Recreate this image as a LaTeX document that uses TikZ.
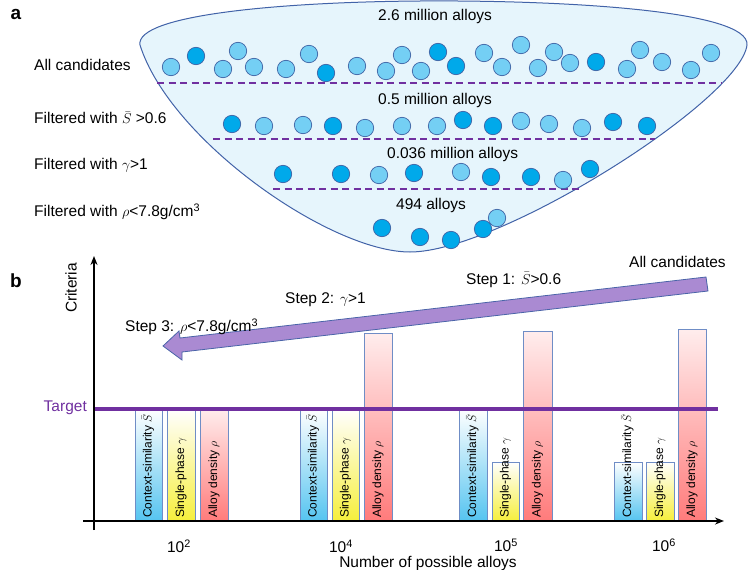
\documentclass[tikz,border=0pt]{standalone}
\usepackage{fontspec}
\setmainfont{Liberation Sans}
\usetikzlibrary{arrows.meta}
\definecolor{funfill}{HTML}{E6F5FC}
\definecolor{funline}{HTML}{4263A8}
\definecolor{cl}{HTML}{74CFF4}
\definecolor{cd}{HTML}{00A9EA}
\definecolor{cline}{HTML}{3F64A6}
\definecolor{purp}{HTML}{7030A0}
\definecolor{arrfill}{HTML}{AA8AD2}
\definecolor{arrline}{HTML}{4A64A8}
\definecolor{barline}{HTML}{6F8DC6}
\definecolor{ctxb}{HTML}{55C4F0}
\definecolor{spy}{HTML}{F6EF3C}
\definecolor{adr}{HTML}{FF7B7B}
\definecolor{adt}{HTML}{FFEDED}
\begin{document}
\begin{tikzpicture}[x=1pt,y=-1pt,
  lab/.style={font=\fontsize{15.5}{18}\selectfont, inner sep=0pt},
  panel/.style={font=\fontsize{19}{22}\selectfont\bfseries, inner sep=0pt},
  bartxt/.style={font=\fontsize{12}{14}\selectfont, inner sep=0pt, rotate=90, anchor=west, text height=8.7pt, text depth=2.6pt},
  lightc/.style={fill=cl, draw=cline, line width=0.7pt},
  darkc/.style={fill=cd, draw=cline, line width=0.7pt},
  dashsep/.style={draw=purp, line width=1.6pt, dash pattern=on 7pt off 4.5pt},
  ctxbar/.style={draw=barline, line width=1pt, top color=white, bottom color=ctxb},
  spbar/.style={draw=barline, line width=1pt, top color=white, bottom color=spy},
  adbar/.style={draw=barline, line width=1pt, top color=adt, bottom color=adr},
  axisline/.style={line width=2pt, -{Stealth[length=9pt,width=7pt]}},
  targetline/.style={draw=purp, line width=3.5pt},
  bigarrow/.style={fill=arrfill, draw=arrline, line width=0.8pt, line join=miter}
]
\useasboundingbox (0,0) rectangle (750,570);

% ---------- panel a ----------
\node[panel] (pa) at (16,14) {a};
\draw[fill=funfill, draw=funline, line width=1pt]
  (410,252) .. controls (330,252) and (170,140) .. (140,45)
  .. controls (135,15) and (280,2) .. (420,1)
  .. controls (560,0) and (750,10) .. (747,45)
  .. controls (740,100) and (500,252) .. (410,252) -- cycle;

\draw[dashsep] (157,83) -- (722,83);
\draw[dashsep] (213,139) -- (655,139);
\draw[dashsep] (273,189) -- (580,189);

% row 1
\foreach \p in {(171,67),(223,69),(238,51),(254,67),(286,69),(309,54),(357,66),(386,71),(402,55),(421,71),(484,53),(502,67),(521,45),(538,68),(554,52),(570,63),(627,69),(640,50),(662,62),(691,70),(711,53)}
  \draw[lightc] \p circle (8.7pt);
\foreach \p in {(196,56),(326,73),(438,52),(456,66),(596,62)}
  \draw[darkc] \p circle (8.7pt);
% row 2
\foreach \p in {(264,126),(303,125),(365,128),(402,126),(437,126),(521,121),(549,124),(582,128)}
  \draw[lightc] \p circle (8.7pt);
\foreach \p in {(232,124),(333,126),(463,120),(493,126),(613,122),(647,126)}
  \draw[darkc] \p circle (8.7pt);
% row 3
\foreach \p in {(379,175),(461,172),(563,180)}
  \draw[lightc] \p circle (8.7pt);
\foreach \p in {(283,174),(341,174),(414,173),(491,177),(531,177),(590,169)}
  \draw[darkc] \p circle (8.7pt);
% row 4
\draw[lightc] (497,218) circle (8.7pt);
\foreach \p in {(382,228),(420,237),(451,240),(483,229)}
  \draw[darkc] \p circle (8.7pt);

\node[lab, anchor=west] (c1) at (378,16) {2.6 million alloys};
\node[lab, anchor=west] (c2) at (378,100) {0.5 million alloys};
\node[lab, anchor=west] (c3) at (387,154) {0.036 million alloys};
\node[lab, anchor=west] (c4) at (396,205) {494 alloys};

\node[lab, anchor=west] (f1) at (34,65) {All candidates};
\node[lab, anchor=west] (f2) at (34,118) {Filtered with $\bar{S}$ >0.6};
\node[lab, anchor=west] (f3) at (34,165) {Filtered with $\gamma$>1};
\node[lab, anchor=west] (f4) at (34,212) {Filtered with $\rho$<7.8g/cm\textsuperscript{3}};

% ---------- panel b ----------
\node[panel] (pb) at (16,281) {b};

% big arrow
\draw[bigarrow] (706,277) -- (180,338) -- (179,331) -- (163,346) -- (182,360) -- (182,352) -- (708,291) -- cycle;

\node[lab, anchor=west] (s0) at (629,262) {All candidates};
\node[lab, anchor=west] (s1) at (466,280) {Step 1: $\bar{S}$>0.6};
\node[lab, anchor=west] (s2) at (285,300) {Step 2: $\gamma$>1};
\node[lab, anchor=west] (s3) at (125,327) {Step 3: $\rho$<7.8g/cm\textsuperscript{3}};

% bars
\draw[ctxbar] (135,409) rectangle (162,521);
\draw[spbar]  (167,409) rectangle (195,521);
\draw[adbar]  (200,409) rectangle (228,521);

\draw[ctxbar] (300,409) rectangle (327,521);
\draw[spbar]  (332,409) rectangle (359,521);
\draw[adbar]  (364,333) rectangle (392,521);

\draw[ctxbar] (459,409) rectangle (487,521);
\draw[spbar]  (492,462) rectangle (519,521);
\draw[adbar]  (523,331) rectangle (552,521);

\draw[ctxbar] (614,462) rectangle (642,521);
\draw[spbar]  (646,462) rectangle (674,521);
\draw[adbar]  (678,329) rectangle (706,521);

\node[bartxt] (t11) at (148.5,518) {Context-similarity $\bar{S}$};
\node[bartxt] (t12) at (181,518) {Single-phase $\gamma$};
\node[bartxt] (t13) at (214,518) {Alloy density $\rho$};
\node[bartxt] (t21) at (313.5,518) {Context-similarity $\bar{S}$};
\node[bartxt] (t22) at (345.5,518) {Single-phase $\gamma$};
\node[bartxt] (t23) at (378,518) {Alloy density $\rho$};
\node[bartxt] (t31) at (473,518) {Context-similarity $\bar{S}$};
\node[bartxt] (t32) at (505.5,518) {Single-phase $\gamma$};
\node[bartxt] (t33) at (537.5,518) {Alloy density $\rho$};
\node[bartxt] (t41) at (628,518) {Context-similarity $\bar{S}$};
\node[bartxt] (t42) at (660,518) {Single-phase $\gamma$};
\node[bartxt] (t43) at (692,518) {Alloy density $\rho$};

% target
\coordinate (tgl) at (94,409);
\coordinate (tgr) at (718,409);
\draw[targetline] (tgl) -- (tgr);
\node[lab, anchor=east, text=purp] (tg) at (87,408) {Target};

% axes
\coordinate (yb) at (94,530);
\coordinate (yt) at (94,256);
\coordinate (xl) at (83,521);
\coordinate (xr) at (724,521);
\draw[axisline] (yb) -- (yt);
\draw[axisline] (xl) -- (xr);

\node[lab, rotate=90] (crit) at (71,288) {Criteria};

\node[lab] (x2) at (179,546) {10\textsuperscript{2}};
\node[lab] (x4) at (341,546) {10\textsuperscript{4}};
\node[lab] (x5) at (506,545) {10\textsuperscript{5}};
\node[lab] (x6) at (664,545) {10\textsuperscript{6}};
\node[lab] (xlab) at (428,563) {Number of possible alloys};
\end{tikzpicture}
\end{document}
